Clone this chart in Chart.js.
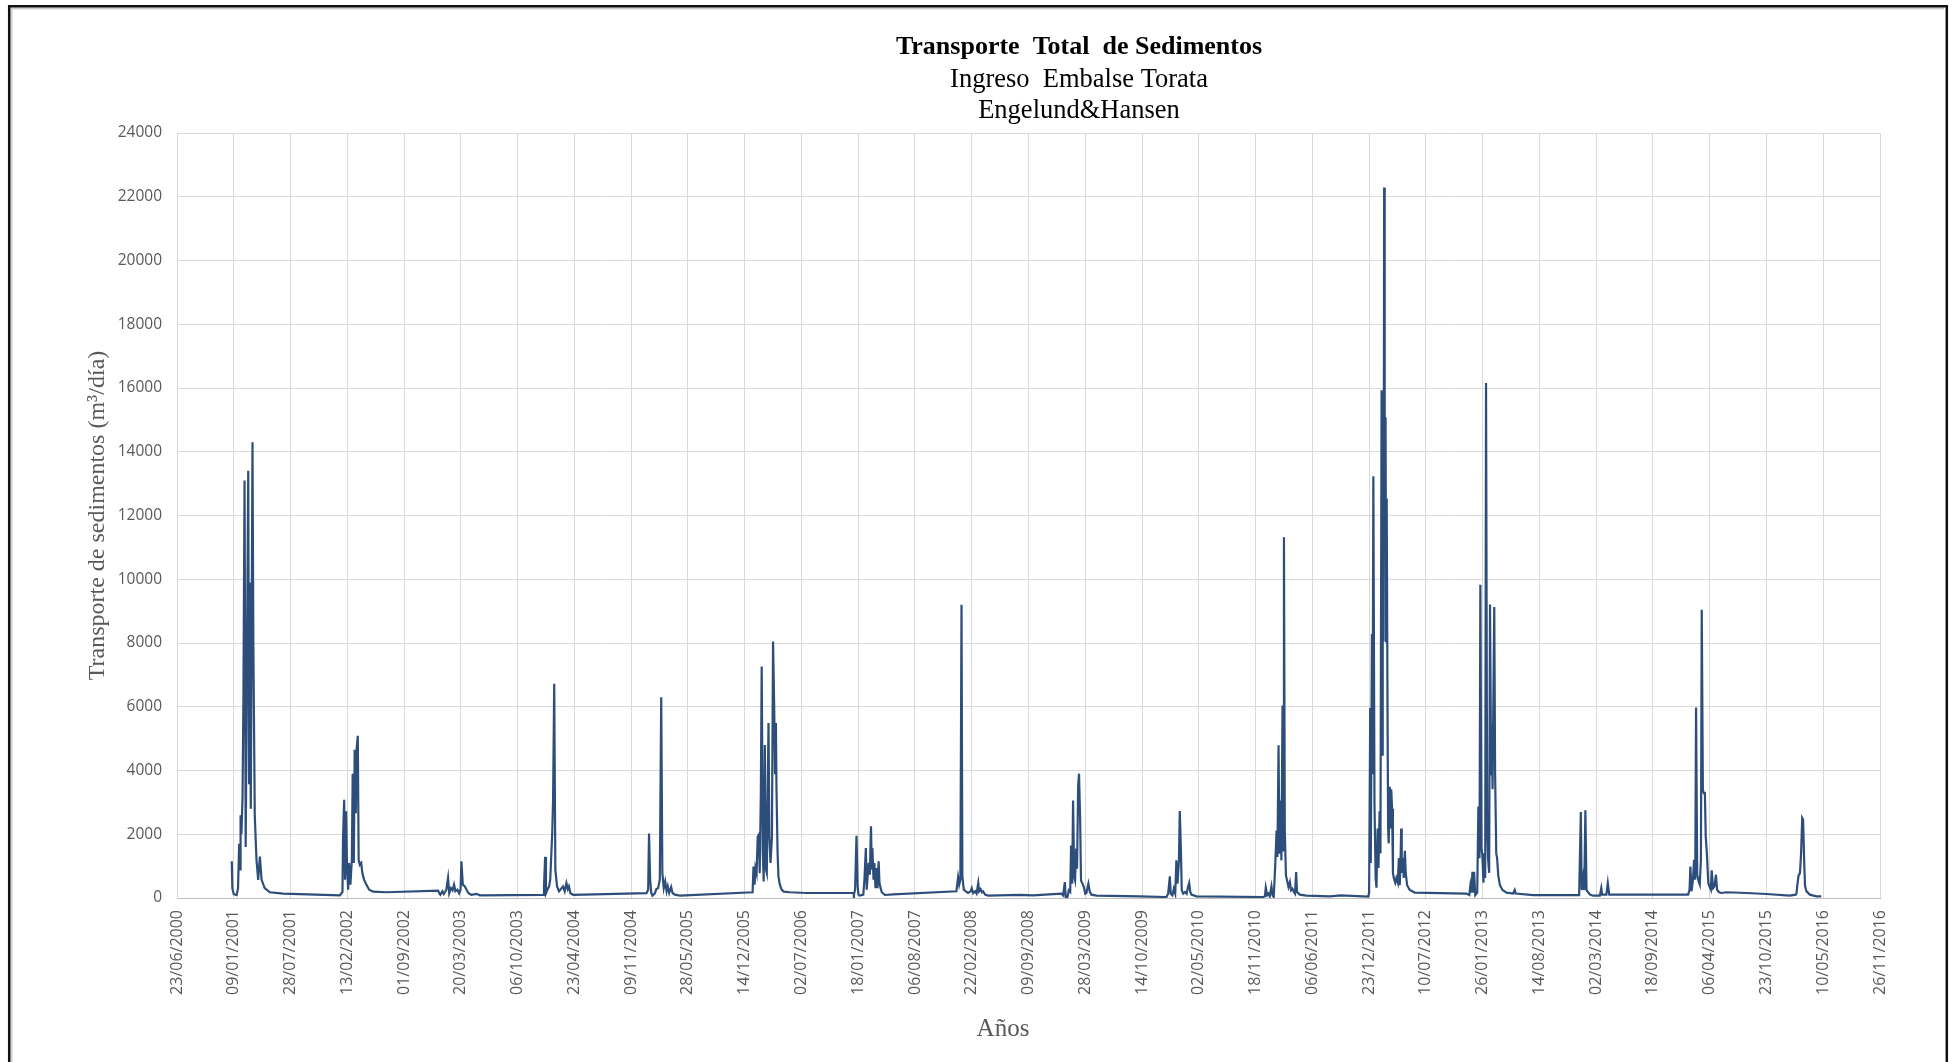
<!DOCTYPE html>
<html lang="es">
<head>
<meta charset="utf-8">
<title>Transporte Total de Sedimentos</title>
<script src="https://cdn.jsdelivr.net/npm/chart.js@4/dist/chart.umd.min.js"></script>
<style>
  html, body { margin: 0; padding: 0; background: #ffffff; }
  #lienzo { display: block; }
</style>
</head>
<body>
<canvas id="lienzo" width="1955" height="1062"></canvas>
<script>
// Fechas como número de serie de Excel (días desde 30/12/1899) y transporte en m3/día.
const fechas2001 = [36893,36895,36900,36910,36915,36919,36922,36924,36927,36931,36934,36938,36942,36946,36951,36954,36956,36960,36966,36969,36974,36980,36986,36992,36998,37009,37027,37074,37274];
const sed2001    = [1150,300,120,90,300,1700,900,2600,2000,3200,6300,13100,1600,6900,13400,3600,9900,2800,14300,8000,2600,1200,570,1300,570,310,180,140,85];

const fechas2002 = [37283,37285,37289,37292,37296,37299,37303,37306,37311,37316,37319,37323,37326,37330,37333,37337,37340,37344,37349,37353,37359,37367,37377,37391,37438,37620];
const sed2002    = [190,1880,3080,575,2720,990,260,1100,420,1200,3900,1100,4650,2660,4700,5090,1200,1045,1100,780,575,420,260,200,180,230];

const fechas2003 = [37624,37628,37635,37640,37649,37655,37659,37665,37671,37676,37681,37688,37694,37699,37702,37707,37714,37720,37727,37737,37755,37767,37990];
const sed2003    = [150,100,210,125,260,630,150,310,240,420,210,260,150,260,1150,420,365,260,150,100,130,85,100];

const fechas2004 = [37993,37997,38000,38005,38011,38015,38022,38025,38029,38033,38039,38046,38055,38060,38066,38072,38077,38081,38086,38096,38354];
const sed2004    = [365,1290,150,260,365,575,2040,3080,6720,880,365,210,310,365,210,470,280,365,150,100,150];

const fechas2005 = [38360,38363,38367,38371,38375,38383,38389,38395,38401,38406,38410,38415,38420,38425,38429,38434,38441,38446,38454,38472,38728];
const sed2005    = [260,2020,575,157,75,135,280,310,575,6300,780,310,520,210,365,157,345,157,105,75,180];

const fechas2006 = [38731,38735,38738,38742,38746,38750,38753,38757,38760,38764,38767,38771,38775,38778,38784,38787,38791,38796,38800,38804,38807,38810,38812,38816,38819,38824,38830,38838,38859,38918,39082];
const sed2006    = [990,420,940,780,1930,1990,780,3290,7260,1410,520,4800,890,780,5490,1930,1100,1880,8050,6010,3920,5490,3500,1410,680,420,260,200,180,157,157];

const fechas2007 = [39085,39089,39094,39098,39101,39106,39118,39122,39127,39130,39134,39137,39141,39145,39148,39150,39154,39157,39161,39164,39168,39172,39175,39179,39183,39194,39223,39446];
const sed2007    = [105,260,1950,365,105,75,105,575,1570,260,780,1100,730,2250,890,1570,575,1100,310,940,310,1150,470,310,180,95,115,210];

const fechas2008 = [39452,39456,39460,39464,39467,39472,39479,39487,39496,39500,39505,39512,39517,39523,39526,39531,39536,39540,39547,39558,39669,39716,39816];
const sed2008    = [660,420,575,9200,680,260,210,157,210,310,157,210,135,470,210,280,180,210,105,75,100,80,136];

const fechas2009 = [39822,39828,39831,39837,39842,39847,39850,39854,39857,39861,39864,39868,39871,39875,39878,39882,39885,39890,39895,39900,39904,39911,39916,39922,39940,40092,40186];
const sed2009    = [84,500,30,20,240,190,1650,450,3060,660,550,1550,920,3530,3900,2430,550,450,345,136,157,450,190,105,73,52,31];

const fechas2010 = [40192,40198,40201,40207,40212,40217,40221,40225,40230,40233,40237,40240,40245,40251,40257,40262,40266,40270,40274,40292,40527];
const sed2010    = [136,680,136,84,290,136,1180,450,1180,2730,1490,240,136,190,136,345,470,190,105,52,31];

const fechas2011 = [40533,40536,40541,40546,40550,40556,40560,40564,40569,40574,40577,40581,40584,40588,40591,40595,40597,40600,40603,40607,40611,40616,40621,40625,40630,40635,40639,40643,40646,40656,40679,40762,40800,40897];
const sed2011    = [52,325,84,136,52,365,84,31,970,2120,1290,4790,1390,3060,1180,6040,1490,11320,2120,710,550,345,500,240,290,190,136,815,190,105,73,52,80,46];

const fechas2012 = [40900,40904,40906,40910,40912,40915,40919,40923,40926,40930,40933,40937,40940,40944,40946,40948,40951,40953,40955,40958,40960,40962,40965,40967,40969,40973,40975,40978,40981,40984,40987,40992,40996,41001,41005,41008,41011,41013,41015,41019,41022,41026,41029,41034,41043,41061,41243,41253];
const sed2012    = [170,5960,1100,8280,3880,13230,2950,630,325,2180,940,2720,1400,15930,4500,15850,8050,22290,14230,15080,8050,12530,5730,2180,1715,3490,2180,3410,2800,790,630,480,630,480,1250,400,1250,2180,790,1250,630,1480,790,400,250,170,140,93];

const fechas2013 = [41257,41261,41264,41267,41270,41274,41281,41285,41289,41292,41296,41299,41303,41306,41309,41312,41316,41319,41323,41326,41330,41332,41335,41337,41341,41344,41348,41351,41355,41361,41370,41384,41408,41413,41417,41478,41640];
const sed2013    = [400,170,820,170,820,93,170,2870,1250,9830,1560,1330,480,1400,630,16160,2180,1250,790,9210,3880,5420,3410,5420,9130,3880,1400,1250,710,400,250,170,140,250,140,93,93];

const fechas2014 = [41646,41649,41654,41658,41662,41666,41678,41689,41713,41718,41721,41736,41741,41746,42024];
const sed2014    = [2700,250,630,250,2750,250,105,73,73,310,105,105,470,105,105];

const fechas2015 = [42029,42032,42036,42041,42045,42049,42052,42056,42061,42065,42069,42072,42076,42079,42083,42086,42090,42095,42099,42104,42107,42112,42117,42122,42126,42133,42142,42159,42230,42300,42382,42403];
const sed2015    = [260,990,210,575,1200,575,5980,730,520,420,1200,9040,3400,3290,3290,1930,1410,470,365,260,870,310,365,730,260,180,157,180,157,125,73,105];

const fechas2016 = [42406,42409,42413,42418,42422,42426,42429,42433,42436,42441,42453,42476,42493];
const sed2016    = [157,420,700,780,1410,2510,2460,1100,365,210,105,52,52];

// Etiquetas del eje de fechas (cada 200 días desde el 23/06/2000).
const etiquetasFecha = [
  '23/06/2000','09/01/2001','28/07/2001','13/02/2002','01/09/2002','20/03/2003',
  '06/10/2003','23/04/2004','09/11/2004','28/05/2005','14/12/2005','02/07/2006',
  '18/01/2007','06/08/2007','22/02/2008','09/09/2008','28/03/2009','14/10/2009',
  '02/05/2010','18/11/2010','06/06/2011','23/12/2011','10/07/2012','26/01/2013',
  '14/08/2013','02/03/2014','18/09/2014','06/04/2015','23/10/2015','10/05/2016',
  '26/11/2016'
];
const etiquetasY = ['0','2000','4000','6000','8000','10000','12000','14000','16000','18000','20000','22000','24000'];

const ORIGEN = 36700;   // serie de Excel del 23/06/2000
const PASO_DIAS = 200;

const temporadas = [
  [fechas2001, sed2001], [fechas2002, sed2002], [fechas2003, sed2003], [fechas2004, sed2004],
  [fechas2005, sed2005], [fechas2006, sed2006], [fechas2007, sed2007], [fechas2008, sed2008],
  [fechas2009, sed2009], [fechas2010, sed2010], [fechas2011, sed2011], [fechas2012, sed2012],
  [fechas2013, sed2013], [fechas2014, sed2014], [fechas2015, sed2015], [fechas2016, sed2016]
];

const puntos = [];
temporadas.forEach(([f, s]) => {
  f.forEach((serie, i) => puntos.push({ x: serie - ORIGEN, y: s[i] }));
});

const GRIS_TEXTO = '#595959';
const SERIF = "'Liberation Serif', 'Times New Roman', serif";
const SANS = "'Open Sans', 'Liberation Sans', sans-serif";

// Marco, títulos y rótulos de ejes
const decoracion = {
  id: 'decoracion',
  afterDraw(chart) {
    const c = chart.ctx;
    const area = chart.chartArea;
    c.save();

    // marco exterior
    c.strokeStyle = '#cfcfcf';
    c.lineWidth = 2;
    c.beginPath();
    c.moveTo(11.5, 1062); c.lineTo(11.5, 8.5); c.lineTo(1944, 8.5);
    c.stroke();
    c.strokeStyle = '#111111';
    c.lineWidth = 2.5;
    c.beginPath();
    c.moveTo(9.2, 1062); c.lineTo(9.2, 6.2); c.lineTo(1946.8, 6.2); c.lineTo(1946.8, 1062);
    c.stroke();

    // títulos
    c.fillStyle = '#000000';
    c.textAlign = 'center';
    c.textBaseline = 'alphabetic';
    c.font = 'bold 26px ' + SERIF;
    c.fillText('Transporte  Total  de Sedimentos', 1079, 54);
    c.font = '26.5px ' + SERIF;
    c.fillText('Ingreso  Embalse Torata', 1079, 86.5);
    c.fillText('Engelund&Hansen', 1079, 118);

    // rótulo del eje X
    c.fillStyle = GRIS_TEXTO;
    c.font = '25px ' + SERIF;
    c.fillText('Años', 1003, 1036);

    // rótulo del eje Y
    c.translate(98, (area.top + area.bottom) / 2);
    c.rotate(-Math.PI / 2);
    c.textBaseline = 'middle';
    c.font = '24px ' + SERIF;
    c.fillText('Transporte de sedimentos (m³/día)', 0, 0);
    c.restore();
  }
};

new Chart(document.getElementById('lienzo'), {
  type: 'line',
  data: {
    datasets: [{
      label: 'Transporte total',
      data: puntos,
      borderColor: '#2d4e7b',
      borderWidth: 2.2,
      pointRadius: 0,
      pointHoverRadius: 0,
      tension: 0,
      fill: false
    }]
  },
  options: {
    responsive: false,
    devicePixelRatio: 1,
    animation: false,
    layout: { padding: { top: 133, right: 75, left: 0, bottom: 0 } },
    plugins: {
      legend: { display: false },
      tooltip: { enabled: false },
      title: { display: false }
    },
    scales: {
      x: {
        type: 'linear',
        min: 0,
        max: PASO_DIAS * (etiquetasFecha.length - 1),
        afterFit(s) { s.height = 164; },
        grid: { color: '#d9d9d9', lineWidth: 1, drawTicks: false },
        border: { color: '#bfbfbf', width: 1 },
        ticks: {
          stepSize: PASO_DIAS,
          autoSkip: false,
          minRotation: 90,
          maxRotation: 90,
          padding: 12,
          color: GRIS_TEXTO,
          font: { family: SANS, size: 16 },
          callback: (v) => etiquetasFecha[Math.round(v / PASO_DIAS)]
        }
      },
      y: {
        min: 0,
        max: 24000,
        afterFit(s) { s.width = 177; },
        grid: { color: '#d9d9d9', lineWidth: 1, drawTicks: false },
        border: { color: '#d9d9d9', width: 1 },
        ticks: {
          stepSize: 2000,
          padding: 15,
          color: GRIS_TEXTO,
          font: { family: SANS, size: 15.5 },
          callback: (v) => etiquetasY[Math.round(v / 2000)]
        }
      }
    }
  },
  plugins: [decoracion]
});
</script>
</body>
</html>
